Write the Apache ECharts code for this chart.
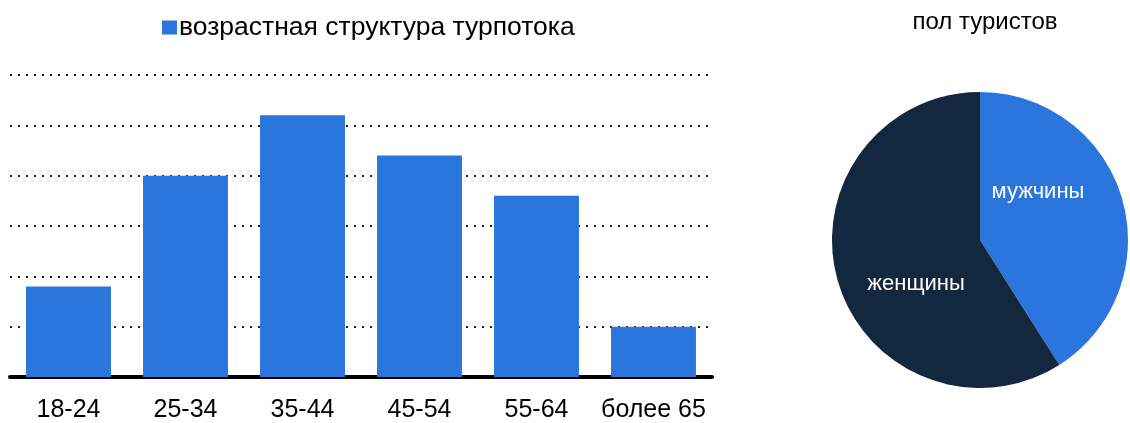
<!DOCTYPE html>
<html><head><meta charset="utf-8">
<script src="https://cdn.jsdelivr.net/npm/echarts@6/dist/echarts.min.js"></script>
<style>html,body{margin:0;padding:0;background:#fff}#c{width:1130px;height:423px}</style>
</head><body><div id="c"></div>
<script>
const categories = ['18-24', '25-34', '35-44', '45-54', '55-64', 'более 65'];
const ageValues = [9, 20, 26, 22, 18, 5];
const barSeriesName = 'возрастная структура турпотока';
const pieTitle = 'пол туристов';
const genderNames = ['мужчины', 'женщины'];
const genderValues = [41, 59];

const FONT = '"Liberation Sans", Arial, sans-serif';
const labelOffsets = [[-16, -27], [10, 22]];
const chart = echarts.init(document.getElementById('c'));
chart.setOption({
  animation: false,
  textStyle: { fontFamily: FONT },
  title: {
    text: pieTitle, left: 980, top: 5, textAlign: 'center',
    textStyle: { fontFamily: FONT, fontSize: 24, fontWeight: 'normal', color: '#000' }
  },
  legend: {
    data: [barSeriesName], top: 9, left: 157, itemWidth: 15, itemHeight: 14, itemGap: 5,
    icon: 'rect',
    textStyle: { fontFamily: FONT, fontSize: 26.5, color: '#000', padding: [0, 0, 0, -3] }
  },
  grid: { left: 10, top: 75, width: 702, height: 303, containLabel: false },
  xAxis: {
    type: 'category', data: categories,
    axisLine: { show: true, lineStyle: { color: '#000', width: 4 } },
    axisTick: { show: false },
    axisLabel: { color: '#000', fontSize: 25, margin: 21, interval: 0, fontFamily: FONT }
  },
  yAxis: {
    type: 'value', min: 0, max: 30, interval: 5,
    axisLabel: { show: false }, axisLine: { show: false }, axisTick: { show: false },
    splitLine: { lineStyle: { color: '#222', width: 2, type: [2, 6] } }
  },
  series: [
    {
      name: barSeriesName, type: 'bar', data: ageValues, barWidth: '72.6%',
      itemStyle: { color: '#2a76dd' }
    },
    {
      type: 'pie', center: [980, 240], radius: 148, startAngle: 90, clockwise: true,
      data: genderNames.map((n, i) => ({ name: n, value: genderValues[i], label: { offset: labelOffsets[i] } })),
      color: ['#2a76dd', '#13283f'],
      label: { position: 'inside', color: '#fff', fontSize: 22, fontFamily: FONT },
      labelLine: { show: false },
      itemStyle: { borderWidth: 0 }
    }
  ]
});
</script></body></html>
